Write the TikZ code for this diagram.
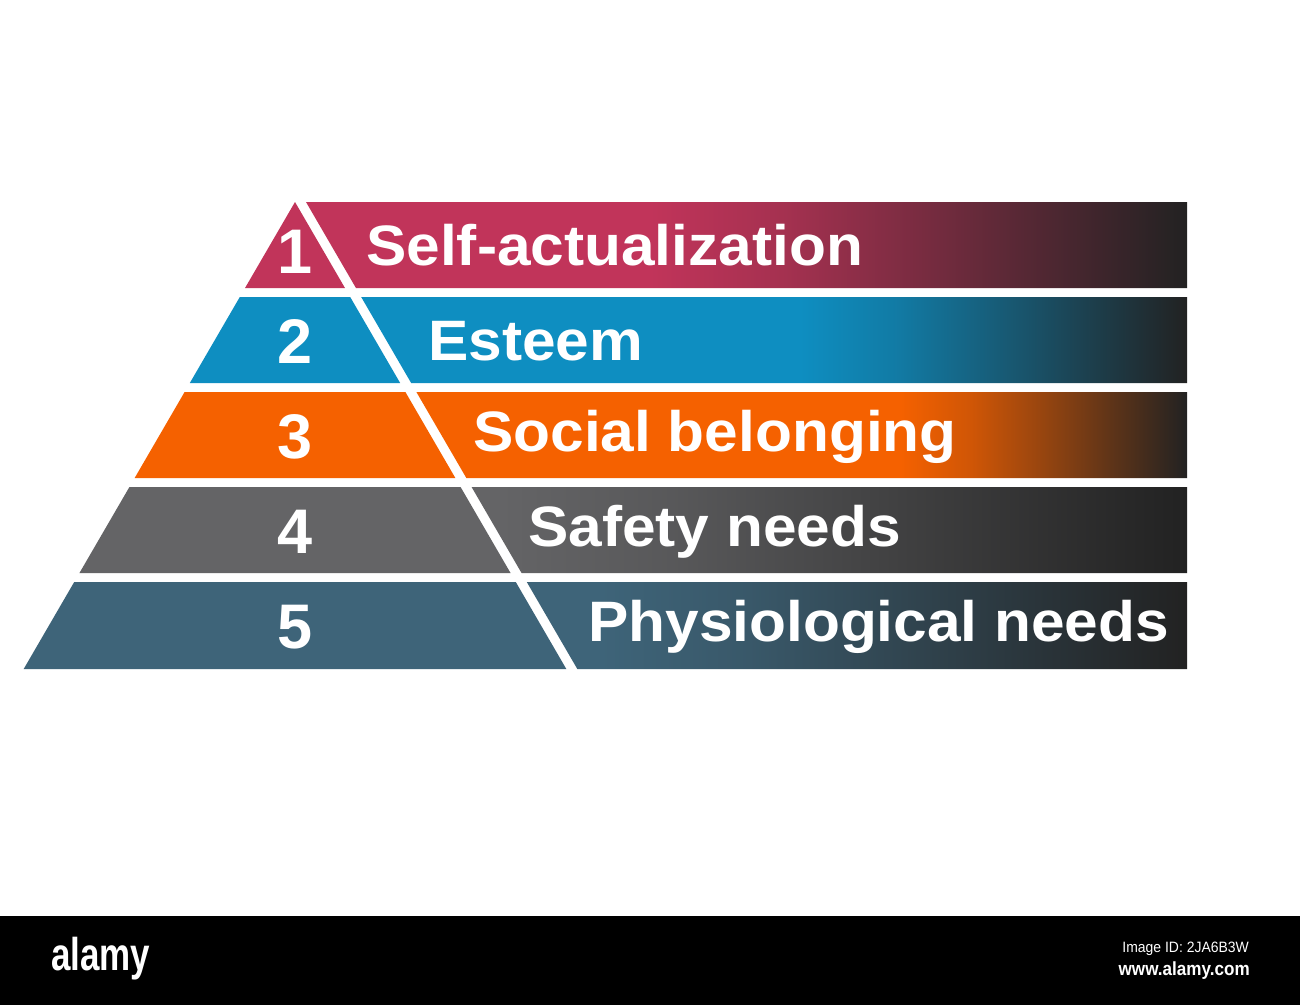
\documentclass[tikz,border=0pt]{standalone}
\usepackage{fontspec}
\setmainfont{Liberation Sans}
\definecolor{cA}{RGB}{193,52,90}
\definecolor{cB}{RGB}{14,142,193}
\definecolor{cC}{RGB}{245,97,0}
\definecolor{cD}{RGB}{100,100,102}
\definecolor{cE}{RGB}{62,100,121}
\definecolor{dk}{RGB}{34,34,34}
% horizontal shadings; the shaded box (x = 0..1300) maps to 25bp..75bp
\pgfdeclarehorizontalshading{lay1}{100bp}{color(0bp)=(cA); color(50bp)=(cA);
  color(55.16bp)=(cA!82!dk); color(60.33bp)=(cA!55!dk); color(65.49bp)=(cA!27!dk);
  color(70.65bp)=(dk); color(100bp)=(dk)}
\pgfdeclarehorizontalshading{lay2}{100bp}{color(0bp)=(cB); color(55.77bp)=(cB);
  color(59.49bp)=(cB!82!dk); color(63.21bp)=(cB!55!dk); color(66.93bp)=(cB!27!dk);
  color(70.65bp)=(dk); color(100bp)=(dk)}
\pgfdeclarehorizontalshading{lay3}{100bp}{color(0bp)=(cC); color(59.62bp)=(cC);
  color(62.38bp)=(cC!82!dk); color(65.13bp)=(cC!55!dk); color(67.89bp)=(cC!27!dk);
  color(70.65bp)=(dk); color(100bp)=(dk)}
\pgfdeclarehorizontalshading{lay4}{100bp}{color(0bp)=(cD); color(44.23bp)=(cD);
  color(50.84bp)=(cD!82!dk); color(57.44bp)=(cD!55!dk); color(64.05bp)=(cD!27!dk);
  color(70.65bp)=(dk); color(100bp)=(dk)}
\pgfdeclarehorizontalshading{lay5}{100bp}{color(0bp)=(cE); color(48.08bp)=(cE);
  color(53.72bp)=(cE!82!dk); color(59.37bp)=(cE!55!dk); color(65.01bp)=(cE!27!dk);
  color(70.65bp)=(dk); color(100bp)=(dk)}
\tikzset{
  lab/.style={anchor=base west, inner sep=0pt, text=white, xscale=1.06,
    font=\fontsize{57}{57}\selectfont\bfseries},
  num/.style={anchor=base, inner sep=0pt, text=white,
    font=\fontsize{63}{63}\selectfont\bfseries},
  wmtext/.style={inner sep=0pt, text=white}
}
\begin{document}
\begin{tikzpicture}[x=1pt,y=-1pt]
\useasboundingbox (0,0) rectangle (1300,1005);
\fill[white] (0,0) rectangle (1300,1005);
\foreach \i/\col/\tx/\bl/\nb/\lb in {
  1/cA/366/265/273/Self-actualization,
  2/cB/428/360/363/Esteem,
  3/cC/473/451/458/Social belonging,
  4/cD/528/546/553/Safety needs,
  5/cE/588/641/648/Physiological needs}{
  \pgfmathsetmacro\t{202+95*(\i-1)}
  \pgfmathsetmacro\b{\t+86+(\i==5)}
  \pgfmathsetmacro\xLt{295-0.581*(\t-202)}
  \pgfmathsetmacro\xLb{295-0.581*(\b-202)}
  \pgfmathsetmacro\xSt{295+0.581*(\t-202)}
  \pgfmathsetmacro\xSb{295+0.581*(\b-202)}
  \pgfmathsetmacro\xBt{\xSt+11}
  \pgfmathsetmacro\xBb{\xSb+11}
  \fill[\col] (\xLt,\t) -- (\xSt,\t) -- (\xSb,\b) -- (\xLb,\b) -- cycle;
  \begin{scope}
    \clip (\xBt,\t) -- (1187,\t) -- (1187,\b) -- (\xBb,\b) -- cycle;
    \shade[shading=lay\i] (0,\t) rectangle (1300,\b);
  \end{scope}
  \node[num] (num\i) at (295,\nb) {\i};
  \node[lab] (lab\i) at (\tx,\bl) {\lb};
}
% footer bar
\fill[black] (0,916) rectangle (1300,1005);
\node[wmtext, anchor=base west, xscale=0.76,
  font=\fontsize{46}{46}\selectfont\bfseries] (logo) at (51,970) {alamy};
\node[wmtext, anchor=base east, xscale=0.93,
  font=\fontsize{15}{15}\selectfont] (imgid) at (1249,952) {Image ID: 2JA6B3W};
\node[wmtext, anchor=base east, xscale=0.9,
  font=\fontsize{19}{19}\selectfont\bfseries] (url) at (1250,975) {www.alamy.com};
\end{tikzpicture}
\end{document}
